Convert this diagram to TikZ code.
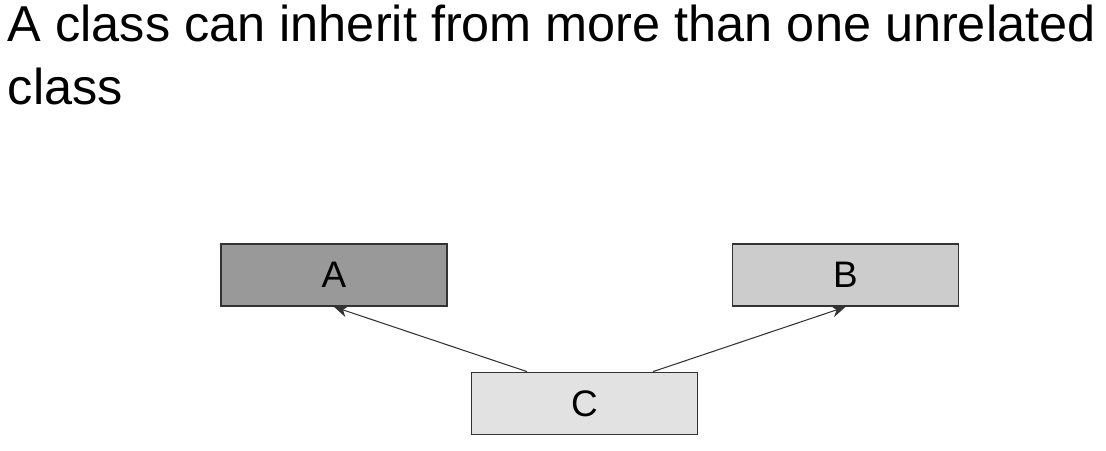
\documentclass[tikz,border=0pt]{standalone}
\usepackage{fontspec}
\setmainfont{Liberation Sans}
\usetikzlibrary{arrows.meta,calc}
\definecolor{boxdark}{HTML}{999999}
\definecolor{boxmid}{HTML}{CCCCCC}
\definecolor{boxlight}{HTML}{E2E2E2}
\definecolor{edgegray}{HTML}{333333}
\begin{document}
\begin{tikzpicture}[
	classbox/.style = {draw=edgegray, line width=1pt, minimum width=4.52cm, minimum height=1.24cm, inner sep=0pt, font=\fontsize{21}{24}\selectfont},
	inherit/.style = {-{Stealth[length=0.28cm, width=0.24cm]}, draw=edgegray, line width=0.6pt}
]
	\useasboundingbox (0,0) rectangle (22.12,9);
	%title
	\node (title) [anchor = north west, inner sep=0pt, align=left, font=\fontsize{28.7}{35.8}\selectfont] at (0.15, 8.9)
	{A class can inherit from more than one unrelated\\class};
	
	%boxes
	\node (A) [classbox, fill=boxdark] at (6.68, 3.5) {A};
	\node (B) [classbox, fill=boxmid] at (16.91, 3.5) {B};
	\node (C) [classbox, fill=boxlight] at (11.69, 0.93) {C};
	
	%arrows
	\coordinate (cl) at ($(C.north)+(-1.15,0)$);
	\coordinate (cr) at ($(C.north)+(1.37,0)$);
	\draw [inherit] (cl) -- (A.south);
	\draw [inherit] (cr) -- (B.south);
\end{tikzpicture}
\end{document}
